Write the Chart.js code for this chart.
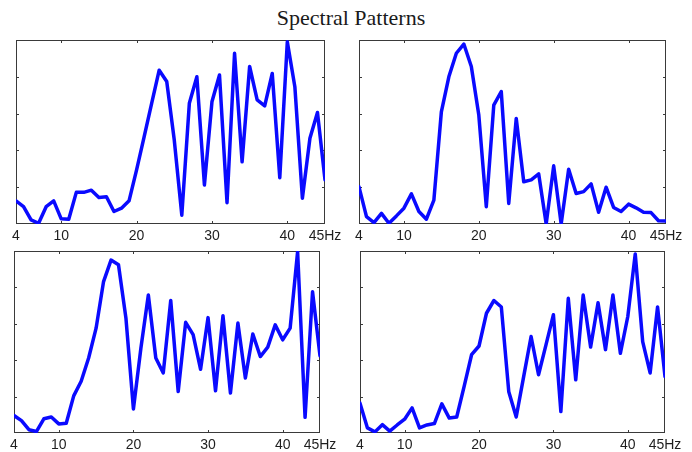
<!DOCTYPE html>
<html>
<head>
<meta charset="utf-8">
<script src="https://cdn.jsdelivr.net/npm/chart.js@4/dist/chart.umd.min.js"></script>
<style>
  html, body { margin: 0; padding: 0; background: #fff; }
  body { width: 692px; height: 452px; position: relative; overflow: hidden; }
  #title {
    position: absolute; left: 0; top: 7px; width: 702px;
    text-align: center; font: 22px/22px "Liberation Serif", "DejaVu Serif", serif;
    color: #1a1a1a;
  }
  .panel { position: absolute; }
  .panel canvas { display: block; }
</style>
</head>
<body>
<div id="title">Spectral Patterns</div>
<div class="panel" id="p1"><canvas id="c1"></canvas></div>
<div class="panel" id="p2"><canvas id="c2"></canvas></div>
<div class="panel" id="p3"><canvas id="c3"></canvas></div>
<div class="panel" id="p4"><canvas id="c4"></canvas></div>

<script>
/* ================================================
   DATA
================================================ */

const freqs = [4, 5, 6, 7, 8, 9, 10, 11, 12, 13, 14, 15, 16, 17, 18, 19, 20, 21, 22, 23, 24,
               25, 26, 27, 28, 29, 30, 31, 32, 33, 34, 35, 36, 37, 38, 39, 40, 41, 42, 43, 44, 45];

const patternA = [0.63, 0.47, 0.11, 0.02, 0.47, 0.63, 0.14, 0.13, 0.86, 0.86, 0.92, 0.72, 0.74, 0.34,
                  0.43, 0.63, 1.47, 2.37, 3.28, 4.18, 3.87, 2.28, 0.24, 3.28, 4.00, 1.06, 3.32, 4.05,
                  0.58, 4.64, 1.69, 4.28, 3.37, 3.21, 4.09, 1.26, 4.95, 3.73, 0.70, 2.33, 3.03, 1.20];

const patternB = [1.01, 0.20, 0.04, 0.29, 0.02, 0.22, 0.43, 0.82, 0.34, 0.13, 0.65, 3.05, 4.00, 4.64,
                  4.89, 4.28, 2.96, 0.47, 3.23, 3.60, 0.56, 2.87, 1.15, 1.20, 1.36, 0.00, 1.58, 0.00,
                  1.49, 0.83, 0.88, 1.09, 0.32, 1.00, 0.45, 0.34, 0.54, 0.44, 0.32, 0.31, 0.09, 0.08];

const patternC = [0.48, 0.34, 0.09, 0.04, 0.39, 0.44, 0.25, 0.27, 1.02, 1.42, 2.06, 2.88, 4.16, 4.75,
                  4.62, 3.15, 0.66, 2.33, 3.79, 2.06, 1.65, 3.64, 1.14, 3.04, 2.70, 1.75, 3.17, 1.16,
                  3.22, 1.10, 3.02, 1.51, 2.72, 2.10, 2.36, 2.97, 2.56, 2.88, 4.98, 0.43, 3.88, 2.12];

const patternD = [0.82, 0.14, 0.03, 0.23, 0.05, 0.22, 0.38, 0.69, 0.14, 0.22, 0.26, 0.80, 0.41, 0.44,
                  1.28, 2.15, 2.39, 3.29, 3.64, 3.46, 1.13, 0.44, 1.55, 2.65, 1.60, 2.42, 3.25, 0.59,
                  3.70, 1.46, 3.79, 2.36, 3.58, 2.29, 3.79, 2.19, 3.20, 4.92, 2.51, 1.65, 3.46, 1.55];

const xTicks      = [4, 10, 20, 30, 40, 45];
const xTickLabels = ['4', '10', '20', '30', '40', '45Hz'];
const xMarks      = [10, 20, 30, 40];   // inward tick marks on frame
const yMarks      = [1, 2, 3, 4];
const yMax        = 5;

/* ================================================
   PANEL LAYOUT  (frame edges in page px)
================================================ */

const panels = [
  { id: 'p1', canvas: 'c1', data: patternA, L: 16,  R: 325, T: 40,  B: 224 },
  { id: 'p2', canvas: 'c2', data: patternB, L: 359, R: 666, T: 40,  B: 224 },
  { id: 'p3', canvas: 'c3', data: patternC, L: 14,  R: 320, T: 251, B: 433 },
  { id: 'p4', canvas: 'c4', data: patternD, L: 360, R: 665, T: 251, B: 433 },
];

const PAD_L = 10, PAD_R = 22, PAD_T = 6, AXIS_H = 24;

/* frame + inward ticks, MATLAB style */
const framePlugin = {
  id: 'frame',
  beforeDatasetsDraw(chart) {
    const { ctx, chartArea: a, scales: { x, y } } = chart;
    ctx.save();
    ctx.strokeStyle = '#3a3a3a';
    ctx.lineWidth = 1;
    ctx.strokeRect(Math.round(a.left) + 0.5, Math.round(a.top) + 0.5,
                   Math.round(a.right - a.left) - 1, Math.round(a.bottom - a.top) - 1);
    ctx.beginPath();
    xMarks.forEach(v => {
      const px = Math.round(x.getPixelForValue(v)) + 0.5;
      ctx.moveTo(px, a.top);    ctx.lineTo(px, a.top + 3);
      ctx.moveTo(px, a.bottom); ctx.lineTo(px, a.bottom - 3);
    });
    yMarks.forEach(v => {
      const py = Math.round(y.getPixelForValue(v)) + 0.5;
      ctx.moveTo(a.left, py);  ctx.lineTo(a.left + 3, py);
      ctx.moveTo(a.right, py); ctx.lineTo(a.right - 3, py);
    });
    ctx.stroke();
    ctx.restore();
  },
};

function buildPanel(p) {
  const box = document.getElementById(p.id);
  const w = (p.R - p.L) + PAD_L + PAD_R;
  const h = (p.B - p.T) + PAD_T + AXIS_H;
  box.style.left   = (p.L - PAD_L) + 'px';
  box.style.top    = (p.T - PAD_T) + 'px';
  box.style.width  = w + 'px';
  box.style.height = h + 'px';

  return new Chart(document.getElementById(p.canvas).getContext('2d'), {
    type: 'line',
    data: {
      datasets: [{
        data:            freqs.map((f, i) => ({ x: f, y: p.data[i] })),
        borderColor:     '#0a0aff',
        borderWidth:     3.5,
        borderJoinStyle: 'round',
        borderCapStyle:  'round',
        pointRadius:     0,
        tension:         0,
        fill:            false,
      }],
    },
    options: {
      responsive:          true,
      maintainAspectRatio: false,
      animation:           false,
      events:              [],
      layout: { padding: { left: PAD_L, right: PAD_R, top: PAD_T, bottom: 0 } },
      plugins: {
        legend:  { display: false },
        tooltip: { enabled: false },
      },
      scales: {
        x: {
          type: 'linear',
          min:  4,
          max:  45,
          afterBuildTicks: s => { s.ticks = xTicks.map(v => ({ value: v })); },
          afterFit: s => { s.height = AXIS_H; },
          grid:   { display: false, drawTicks: false },
          border: { display: false },
          ticks: {
            padding:     4,
            maxRotation: 0,
            autoSkip:    false,
            color:       '#1e1e1e',
            font:        { family: '"Liberation Sans", Arial, sans-serif', size: 14 },
            callback:    v => xTickLabels[xTicks.indexOf(v)],
          },
        },
        y: {
          display: false,
          min: 0,
          max: yMax,
        },
      },
    },
    plugins: [framePlugin],
  });
}

panels.forEach(buildPanel);
</script>
</body>
</html>
